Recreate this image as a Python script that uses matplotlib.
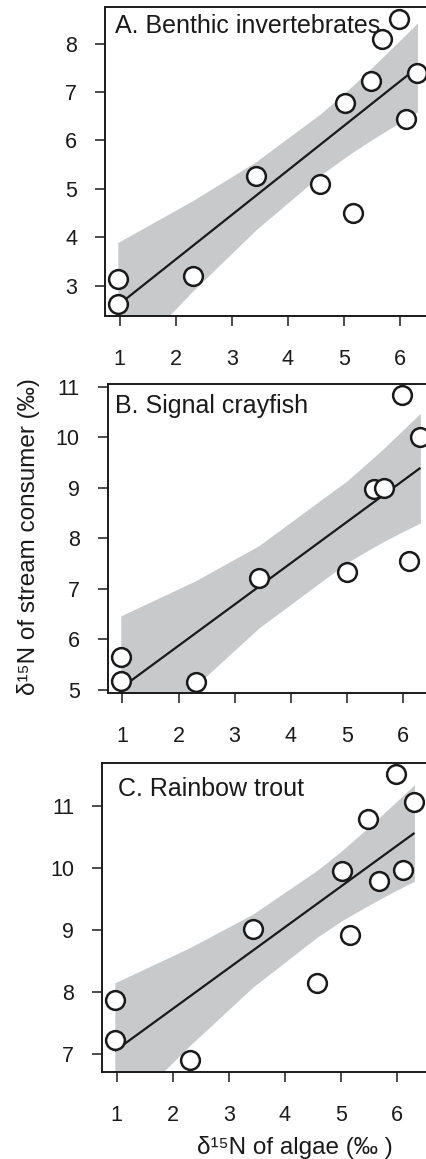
import matplotlib
matplotlib.use("Agg")
import matplotlib.pyplot as plt

plt.rcParams['font.family'] = ['Liberation Sans', 'DejaVu Sans']

# --- data ----------------------------------------------------------------
# d15N of algae (x) vs d15N of consumer (y)
X_A = [0.97, 0.97, 2.31, 3.43, 4.58, 5.01, 5.16, 5.49, 5.67, 5.98, 6.11, 6.31]
Y_A = [3.13, 2.61, 3.19, 5.26, 5.09, 6.77, 4.49, 7.23, 8.09, 8.52, 6.45, 7.40]
X_B = [0.97, 0.97, 2.31, 3.43, 5.01, 5.49, 5.67, 5.98, 6.11, 6.31]
Y_B = [5.64, 5.18, 5.16, 7.22, 7.32, 8.97, 8.99, 10.83, 7.54, 10.00]
X_C = [0.97, 0.97, 2.31, 3.43, 4.58, 5.01, 5.16, 5.49, 5.67, 5.98, 6.11, 6.31]
Y_C = [7.87, 7.23, 6.90, 9.02, 8.15, 9.95, 8.92, 10.79, 9.80, 11.52, 9.98, 11.07]

# regression line ends and 95% band
FIT_X = [0.97, 6.31]
FIT_A = [2.59, 7.51]
FIT_B = [5.03, 9.39]
FIT_C = [7.05, 10.57]

BAND_X_A = [0.97, 2.31, 3.43, 4.58, 5.01, 5.16, 5.49, 5.67, 5.98, 6.11, 6.31]
BAND_LO_A = [1.28, 2.89, 4.15, 5.28, 5.64, 5.76, 6.01, 6.14, 6.36, 6.45, 6.59]
BAND_HI_A = [3.89, 4.76, 5.56, 6.55, 6.98, 7.14, 7.50, 7.70, 8.05, 8.20, 8.43]
BAND_X_B = [0.97, 2.31, 3.43, 5.01, 5.49, 5.67, 5.98, 6.11, 6.31]
BAND_LO_B = [3.59, 5.08, 6.22, 7.52, 7.83, 7.94, 8.12, 8.19, 8.30]
BAND_HI_B = [6.46, 7.16, 7.85, 9.14, 9.61, 9.79, 10.12, 10.26, 10.47]
BAND_X_C = [0.97, 2.31, 3.43, 4.58, 5.01, 5.16, 5.49, 5.67, 5.98, 6.11, 6.31]
BAND_LO_C = [5.94, 7.14, 8.08, 8.89, 9.15, 9.23, 9.40, 9.49, 9.64, 9.70, 9.79]
BAND_HI_C = [8.15, 8.72, 9.26, 9.97, 10.28, 10.40, 10.66, 10.81, 11.07, 11.18, 11.35]

TITLES = ["A. Benthic invertebrates", "B. Signal crayfish", "C. Rainbow trout"]
XTICKS = [1, 2, 3, 4, 5, 6]
YTICKS_A = [3, 4, 5, 6, 7, 8]
YTICKS_B = [5, 6, 7, 8, 9, 10, 11]
YTICKS_C = [7, 8, 9, 10, 11]

# --- layout (pixels) ------------------------------------------------------
W, H = 427, 1159
BAND_COLOR = "#c8c9cb"
INK = "#1a1a1a"


def px_box(l, t, r, b):
    return [l / W, 1 - b / H, (r - l) / W, (b - t) / H]


def fx(x):
    return x / W


def fy(y):
    return 1 - y / H


fig = plt.figure(figsize=(W / 100, H / 100), dpi=100)

panels = [
    dict(box=(105.5, 7, 428.7, 316), xlim=(0.75, 6.51), ylim=(2.37, 8.76),
         x=X_A, y=Y_A, fit=FIT_A, bx=BAND_X_A, lo=BAND_LO_A, hi=BAND_HI_A,
         yticks=YTICKS_A, title_pos=(115, 33)),
    dict(box=(108.2, 384, 432.4, 693), xlim=(0.746, 6.524), ylim=(4.935, 11.05),
         x=X_B, y=Y_B, fit=FIT_B, bx=BAND_X_B, lo=BAND_LO_B, hi=BAND_HI_B,
         yticks=YTICKS_B, title_pos=(115, 413)),
    dict(box=(102.5, 763, 428.5, 1072), xlim=(0.75, 6.56), ylim=(6.71, 11.70),
         x=X_C, y=Y_C, fit=FIT_C, bx=BAND_X_C, lo=BAND_LO_C, hi=BAND_HI_C,
         yticks=YTICKS_C, title_pos=(118, 796)),
]

for p, title in zip(panels, TITLES):
    ax = fig.add_axes(px_box(*p["box"]))
    ax.fill_between(p["bx"], p["lo"], p["hi"], color=BAND_COLOR, lw=0, zorder=1)
    ax.plot(FIT_X, p["fit"], color=INK, lw=1.6, zorder=2,
            solid_capstyle="butt")
    ax.plot(p["x"], p["y"], "o", ms=13.5, mfc="white", mec=INK, mew=1.8,
            zorder=3, clip_on=False)
    ax.set_xlim(*p["xlim"])
    ax.set_ylim(*p["ylim"])
    ax.set_xticks(XTICKS)
    ax.set_yticks(p["yticks"])
    ax.tick_params(direction="out", length=7.5, width=1.1, labelsize=15.5,
                   colors=INK)
    ax.tick_params(axis="x", pad=16)
    ax.tick_params(axis="y", pad=13)
    for s in ax.spines.values():
        s.set_linewidth(1.4)
        s.set_color(INK)
    fig.text(fx(p["title_pos"][0]), fy(p["title_pos"][1]), title,
             fontsize=18, ha="left", va="baseline", color=INK)

fig.text(fx(29), fy(537), "δ¹⁵N of stream consumer (‰)", rotation=90,
         ha="center", va="center", fontsize=17.5, color=INK)
fig.text(fx(295), fy(1154), "δ¹⁵N of algae (‰ )", ha="center", va="baseline",
         fontsize=17.5, color=INK)

fig.savefig("out.png", dpi=100)
